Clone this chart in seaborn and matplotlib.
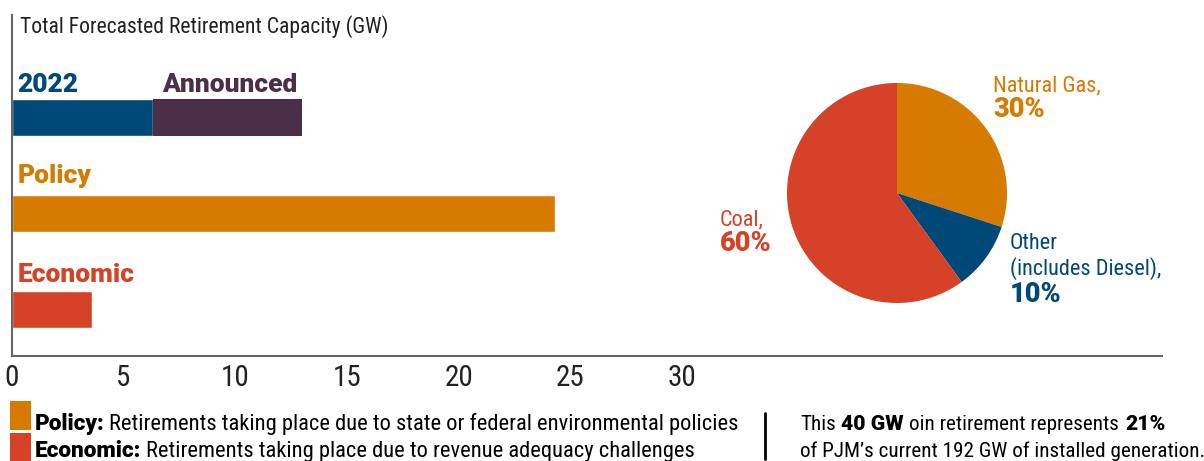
import matplotlib
matplotlib.use("Agg")
import matplotlib.pyplot as plt
from matplotlib.patches import Rectangle
from matplotlib.lines import Line2D
from matplotlib.text import Annotation
import seaborn as sns
import pandas as pd

# ---- data -------------------------------------------------------------
bar_rows = ["2022", "Policy", "Economic"]
first_segment_gw = [6.3, 24.3, 3.6]
announced_gw = 6.7                      # stacked after the 2022 segment
bar_labels = ["2022", "Policy", "Economic"]
x_ticks = [0, 5, 10, 15, 20, 25, 30]

fuel_types = ["Natural Gas", "Other", "Coal"]
fuel_share = [30, 10, 60]

NAVY = "#004877"
PURPLE = "#4B2E48"
ORANGE = "#D67A00"
RED = "#D54227"

sns.set_theme(style="white")
NARROW = ["Roboto Condensed", "Liberation Sans Narrow", "Open Sans Condensed",
          "DejaVu Sans Condensed", "Liberation Sans", "DejaVu Sans"]
HEAVY = ["Roboto", "Lato", "DejaVu Sans"]
plt.rcParams["font.family"] = NARROW

W, H = 1204, 461
fig = plt.figure(figsize=(W / 100, H / 100), dpi=100)
fig.patch.set_facecolor("white")

# ---- horizontal bars --------------------------------------------------
ax = fig.add_axes([12 / W, 105 / H, 1150 / W, 341 / H])
df = pd.DataFrame({"row": bar_rows, "gw": first_segment_gw})
sns.barplot(data=df, x="gw", y="row", hue="row", orient="h",
            palette=[NAVY, ORANGE, RED], width=0.385, legend=False,
            saturation=1, ax=ax)
ax.barh(0, announced_gw, left=first_segment_gw[0], height=0.385,
        color=PURPLE, linewidth=0)

ax.set_xlim(0, 51.5)
ax.set_ylim(2.48, -1.068)
ax.set_xticks(x_ticks)
ax.set_xticklabels([str(t) for t in x_ticks], fontsize=21, color="#222222")
ax.set_yticks([])
ax.set_xlabel("")
ax.set_ylabel("")
ax.tick_params(axis="x", length=0, pad=6)
for side in ("top", "right"):
    ax.spines[side].set_visible(False)
for side in ("left", "bottom"):
    ax.spines[side].set_color("#666666")
    ax.spines[side].set_linewidth(1.5)

label_colors = [NAVY, ORANGE, RED]
label_offsets = [-0.266, -0.318, -0.286]
for i, (lab, col, off) in enumerate(zip(bar_labels, label_colors, label_offsets)):
    ax.text(0.25, i + off, lab, color=col, fontsize=19, fontweight="black",
            family=HEAVY, va="baseline", ha="left")
ax.text(first_segment_gw[0] + 0.4, label_offsets[0], "Announced", color=PURPLE,
        fontsize=19, fontweight="black", family=HEAVY,
        va="baseline", ha="left")

ax.text(0.007, 1.0, "Total Forecasted Retirement Capacity (GW)",
        transform=ax.transAxes, fontsize=15.6, color="#222222",
        va="top", ha="left")

# ---- pie --------------------------------------------------------------
pax = fig.add_axes([787 / W, (H - 303) / H, 220 / W, 220 / H])
pax.pie(fuel_share, colors=[ORANGE, NAVY, RED], startangle=90,
        counterclock=False, radius=1, wedgeprops=dict(linewidth=0))
pax.set_xlim(-1, 1)
pax.set_ylim(-1, 1)
pax.set_aspect("equal")
pax.axis("off")

pie_text = [
    (0.873, 0.927, "Natural Gas,", ORANGE, False),
    (0.873, 0.691, f"{fuel_share[0]}%", ORANGE, True),
    (1.027, -0.509, "Other", NAVY, False),
    (1.027, -0.745, "(includes Diesel),", NAVY, False),
    (1.027, -0.991, f"{fuel_share[1]}%", NAVY, True),
    (-1.609, -0.291, "Coal,", RED, False),
    (-1.609, -0.527, f"{fuel_share[2]}%", RED, True),
]
for x, y, s, c, heavy in pie_text:
    if heavy:
        kw = dict(fontsize=19.5, fontweight="black", family=HEAVY)
    else:
        kw = dict(fontsize=16, fontweight="normal")
    pax.text(x, y, s, color=c, va="baseline", ha="left", clip_on=False, **kw)

# ---- footer -----------------------------------------------------------
fig.add_artist(Rectangle((10 / W, (H - 430) / H), 21 / W, 29 / H,
                         transform=fig.transFigure, color=ORANGE, lw=0))
fig.add_artist(Rectangle((10 / W, 0), 21 / W, 28 / H,
                         transform=fig.transFigure, color=RED, lw=0))
fig.add_artist(Line2D([765 / W, 765 / W], [(H - 459) / H, (H - 413) / H],
                      transform=fig.transFigure, color="black", lw=2))


def chain(x_px, baseline_px, parts, size=16, gap=4):
    """Write a line of regular / bold pieces, each placed after the last."""
    last = None
    for text, bold in parts:
        if bold:
            kw = dict(fontsize=size, color="black", fontweight="black",
                      family=HEAVY)
        else:
            kw = dict(fontsize=size, color="black", fontweight="normal")
        if last is None:
            last = fig.text(x_px / W, (H - baseline_px) / H, text,
                            va="baseline", ha="left", **kw)
        else:
            last = fig.add_artist(Annotation(
                text, xy=(1, 0), xycoords=last, xytext=(gap, 0),
                textcoords="offset points", va="bottom", ha="left", **kw))


chain(35, 430, [("Policy:", True),
                ("Retirements taking place due to state or federal environmental policies", False)],
      size=16.2, gap=3)
chain(35, 457, [("Economic:", True),
                ("Retirements taking place due to revenue adequacy challenges", False)],
      size=16.2, gap=3)
chain(800, 430, [("This", False), ("40 GW", True),
                 ("oin retirement represents", False), ("21%", True)], size=15.2)
chain(800, 457, [("of PJM\u2019s current 192 GW of installed generation.", False)],
      size=15.2)

fig.savefig("out.png", dpi=100, facecolor="white")
